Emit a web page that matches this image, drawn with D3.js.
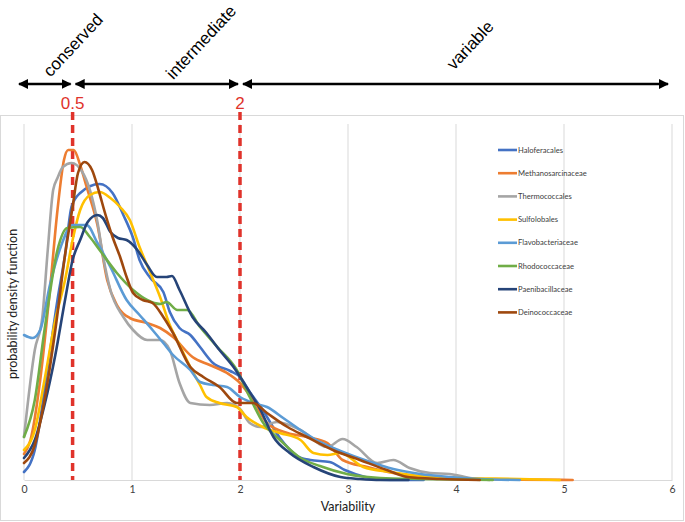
<!DOCTYPE html>
<html>
<head>
<meta charset="utf-8">
<script src="https://cdn.jsdelivr.net/npm/d3@7"></script>
<style>
  html, body { margin: 0; padding: 0; background: #fff; }
  svg { display: block; }
</style>
</head>
<body>
<svg id="chart" width="685" height="522"></svg>
<script>
// ---------------- DATA ----------------
const seriesNames = ["Haloferacales","Methanosarcinaceae","Thermococcales","Sulfolobales",
  "Flavobacteriaceae","Rhodococcaceae","Paenibacillaceae","Deinococcaceae"];

const haloferacales = [[0,0.04],[0.1,0.15],[0.22,0.565],[0.31,0.9],[0.38,1.125],[0.44,1.365],[0.52,1.435],[0.7,1.48],[0.82,1.435],[0.92,1.325],[1.01,1.21],[1.07,1.1],[1.17,1.01],[1.29,0.94],[1.35,0.84],[1.44,0.76],[1.54,0.725],[1.63,0.665],[1.75,0.585],[1.91,0.545],[2.0,0.515],[2.09,0.44],[2.21,0.35],[2.37,0.21],[2.53,0.12],[2.65,0.1],[2.83,0.09],[2.97,0.05],[3.16,0.015],[3.39,0],[3.7,0]];
const methanosarcinaceae = [[0,0.13],[0.06,0.2],[0.15,0.5],[0.24,0.95],[0.31,1.35],[0.37,1.6],[0.41,1.65],[0.46,1.65],[0.52,1.575],[0.58,1.465],[0.68,1.275],[0.77,1.0],[0.86,0.875],[0.98,0.81],[1.14,0.785],[1.26,0.76],[1.38,0.715],[1.56,0.615],[1.72,0.575],[1.88,0.535],[2.0,0.485],[2.12,0.4],[2.25,0.285],[2.44,0.235],[2.62,0.215],[2.81,0.185],[2.95,0.1],[3.18,0.065],[3.42,0.035],[3.67,0.015],[4.04,0.005],[4.6,0.002],[5.08,0]];
const thermococcales = [[0,0.215],[0.1,0.65],[0.17,0.815],[0.22,1.15],[0.27,1.45],[0.31,1.51],[0.36,1.565],[0.44,1.585],[0.54,1.54],[0.61,1.45],[0.68,1.29],[0.73,1.125],[0.8,0.95],[0.92,0.815],[1.01,0.75],[1.14,0.7],[1.26,0.7],[1.35,0.65],[1.44,0.485],[1.54,0.385],[1.72,0.375],[1.88,0.385],[2.0,0.355],[2.09,0.285],[2.19,0.265],[2.34,0.29],[2.56,0.25],[2.81,0.165],[2.95,0.205],[3.08,0.165],[3.27,0.085],[3.42,0.1],[3.57,0.06],[3.76,0.035],[3.94,0.03],[4.13,0.01],[4.31,0]];
const sulfolobales = [[0,0.15],[0.1,0.25],[0.19,0.5],[0.29,0.8],[0.38,1.0],[0.45,1.2],[0.52,1.35],[0.61,1.425],[0.7,1.44],[0.8,1.41],[0.89,1.365],[0.98,1.3],[1.07,1.165],[1.17,1.035],[1.26,0.915],[1.35,0.775],[1.44,0.675],[1.54,0.565],[1.63,0.475],[1.69,0.415],[1.81,0.385],[1.97,0.365],[2.06,0.315],[2.21,0.265],[2.37,0.235],[2.56,0.2],[2.68,0.135],[2.81,0.125],[2.93,0.135],[3.14,0.065],[3.39,0.04],[3.67,0.02],[4.04,0.01],[4.59,0.005],[4.96,0]];
const flavobacteriaceae = [[0,0.725],[0.08,0.71],[0.15,0.75],[0.24,0.975],[0.33,1.15],[0.45,1.275],[0.58,1.275],[0.68,1.185],[0.8,1.065],[0.95,0.9],[1.07,0.825],[1.19,0.75],[1.29,0.685],[1.38,0.625],[1.54,0.55],[1.63,0.49],[1.75,0.475],[1.88,0.465],[2.0,0.415],[2.12,0.385],[2.25,0.365],[2.4,0.31],[2.56,0.25],[2.74,0.19],[2.93,0.145],[3.18,0.095],[3.42,0.055],[3.67,0.03],[3.94,0.015],[4.22,0.005],[4.59,0]];
const rhodococcaceae = [[0,0.215],[0.1,0.4],[0.19,0.75],[0.31,1.15],[0.4,1.26],[0.52,1.265],[0.61,1.215],[0.7,1.15],[0.86,1.035],[1.01,0.95],[1.14,0.9],[1.26,0.88],[1.32,0.89],[1.42,0.85],[1.51,0.85],[1.63,0.765],[1.79,0.665],[1.97,0.55],[2.09,0.415],[2.21,0.29],[2.37,0.2],[2.56,0.11],[2.74,0.07],[2.99,0.03],[3.3,0.01],[3.67,0.005],[4.34,0]];
const paenibacillaceae = [[0,0.11],[0.1,0.2],[0.19,0.375],[0.29,0.625],[0.38,0.9],[0.45,1.1],[0.52,1.2],[0.59,1.29],[0.68,1.325],[0.73,1.31],[0.8,1.24],[0.87,1.21],[0.95,1.2],[1.05,1.15],[1.14,1.075],[1.23,1.015],[1.32,1.015],[1.37,1.02],[1.44,0.95],[1.56,0.815],[1.69,0.735],[1.81,0.65],[1.94,0.565],[2.06,0.465],[2.19,0.35],[2.31,0.215],[2.46,0.135],[2.68,0.065],[2.93,0.015],[3.11,0.005],[3.3,0],[3.56,0]];
const deinococcaceae = [[0,0.085],[0.1,0.175],[0.19,0.4],[0.29,0.75],[0.38,1.125],[0.45,1.365],[0.5,1.535],[0.56,1.59],[0.63,1.55],[0.69,1.45],[0.75,1.335],[0.82,1.215],[0.89,1.115],[0.95,1.015],[1.01,0.935],[1.1,0.9],[1.19,0.885],[1.29,0.815],[1.38,0.735],[1.54,0.565],[1.66,0.515],[1.81,0.465],[1.97,0.385],[2.12,0.385],[2.25,0.335],[2.44,0.265],[2.62,0.215],[2.86,0.15],[3.11,0.1],[3.36,0.05],[3.55,0.015],[3.85,0.005],[4.22,0]];

const seriesValues = [haloferacales, methanosarcinaceae, thermococcales, sulfolobales,
  flavobacteriaceae, rhodococcaceae, paenibacillaceae, deinococcaceae];

const xTicks = [0,1,2,3,4,5,6];
const thresholds = [0.45, 2];
const thresholdLabels = ["0.5", "2"];
const regionNames = ["conserved", "intermediate", "variable"];
const regionBounds = [[0, 0.45], [0.45, 2], [2, 6]];
const xTitle = "Variability";
const yTitle = "probability density function";

// ---------------- STYLE ----------------
const colors = ["#4472C4","#ED7D31","#A5A5A5","#FFC000","#5B9BD5","#70AD47","#264478","#9E480E"];
const W = 685, H = 522;
const margin = {left: 24, right: 13, top: 124, bottom: 42};

const svg = d3.select("#chart");

const x = d3.scaleLinear().domain([0, 6]).range([margin.left, W - margin.right]);
const y = d3.scaleLinear().domain([0, 1.78]).range([H - margin.bottom, margin.top]);

// outer chart border
svg.append("rect")
  .attr("x", 0.5).attr("y", 115.5).attr("width", 683).attr("height", 405)
  .attr("fill", "#fff").attr("stroke", "#d9d9d9").attr("stroke-width", 1);

// gridlines
svg.append("g").selectAll("line").data(xTicks).join("line")
  .attr("x1", d => x(d)).attr("x2", d => x(d))
  .attr("y1", y(0)).attr("y2", y.range()[1])
  .attr("stroke", "#d9d9d9").attr("stroke-width", 1);

// x axis
const xAxis = d3.axisBottom(x).tickValues(xTicks).tickSize(0).tickPadding(6).tickFormat(d3.format("d"));
const gx = svg.append("g").attr("transform", `translate(0,${y(0)})`).call(xAxis);
gx.select(".domain").attr("stroke", "#d9d9d9");
gx.selectAll("text").attr("font-family", "Lato, 'Open Sans', sans-serif").attr("font-size", 10.5).attr("fill", "#404040");

svg.append("text").text(xTitle)
  .attr("x", x(3)).attr("y", 511).attr("text-anchor", "middle")
  .attr("font-family", "Lato, 'Open Sans', sans-serif").attr("font-size", 12.5).attr("fill", "#202020");

svg.append("text").text(yTitle)
  .attr("transform", `translate(17,${(y(0)+y.range()[1])/2 + 2}) rotate(-90)`)
  .attr("text-anchor", "middle")
  .attr("font-family", "Lato, 'Open Sans', sans-serif").attr("font-size", 12.5).attr("fill", "#202020");

// threshold dashed lines
svg.append("g").selectAll("line").data(thresholds).join("line")
  .attr("x1", d => x(d)).attr("x2", d => x(d))
  .attr("y1", 112).attr("y2", y(0))
  .attr("stroke", "#E0332B").attr("stroke-width", 3.5).attr("stroke-dasharray", "8,5");

svg.append("g").selectAll("text").data(thresholds).join("text")
  .attr("x", d => x(d)).attr("y", 109).attr("text-anchor", "middle")
  .text((d, i) => thresholdLabels[i])
  .attr("font-family", "'Liberation Sans', Arial, sans-serif").attr("font-size", 17).attr("fill", "#E0332B");

// curves
const line = d3.line().x(d => x(d[0])).y(d => y(d[1])).curve(d3.curveMonotoneX);
svg.append("g").selectAll("path").data(seriesValues).join("path")
  .attr("d", line)
  .attr("fill", "none")
  .attr("stroke", (d, i) => colors[i])
  .attr("stroke-width", 2.6)
  .attr("stroke-linejoin", "round").attr("stroke-linecap", "round");

// legend
const lg = svg.append("g");
seriesNames.forEach((name, i) => {
  const yy = 150 + i * 23.2;
  lg.append("line").attr("x1", 498).attr("x2", 517).attr("y1", yy).attr("y2", yy)
    .attr("stroke", colors[i]).attr("stroke-width", 2.6);
  lg.append("text").attr("x", 518).attr("y", yy + 2.6).text(name)
    .attr("font-family", "Lato, 'Open Sans', sans-serif").attr("font-size", 7.6).attr("fill", "#404040");
});

// region arrows
const defs = svg.append("defs");
defs.append("marker").attr("id", "ah").attr("viewBox", "0 0 10 10")
  .attr("refX", 9).attr("refY", 5).attr("markerWidth", 4.2).attr("markerHeight", 4.2)
  .attr("markerUnits", "strokeWidth").attr("orient", "auto-start-reverse")
  .append("path").attr("d", "M0,0 L10,5 L0,10 z").attr("fill", "#000");

const arrowY = 84;
const ag = svg.append("g");
regionBounds.forEach((b, i) => {
  const x1 = x(b[0]) + (i === 0 ? -5 : 3);
  const x2 = x(b[1]) - (i === 2 ? 4 : 2);
  ag.append("line").attr("x1", x1).attr("x2", x2).attr("y1", arrowY).attr("y2", arrowY)
    .attr("stroke", "#000").attr("stroke-width", 2.4)
    .attr("marker-start", "url(#ah)").attr("marker-end", "url(#ah)");
});

const labelPos = [[74, 46], [202, 43], [471, 46]];
regionNames.forEach((name, i) => {
  svg.append("text").text(name)
    .attr("transform", `translate(${labelPos[i][0]},${labelPos[i][1]}) rotate(-47)`)
    .attr("text-anchor", "middle").attr("dominant-baseline", "middle")
    .attr("font-family", "'Liberation Sans', Arial, sans-serif").attr("font-size", 17).attr("fill", "#000");
});
</script>
</body>
</html>
